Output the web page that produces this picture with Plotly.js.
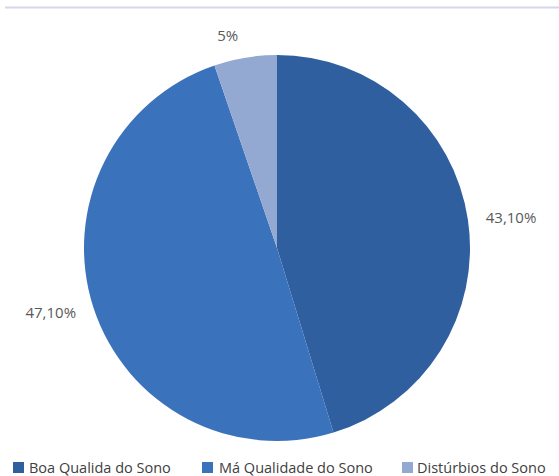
<!DOCTYPE html>
<html>
<head>
<meta charset="utf-8">
<script src="https://cdn.plot.ly/plotly-3.0.1.min.js"></script>
<style>html,body{margin:0;padding:0;background:#fff;}#chart{width:559px;height:476px;}</style>
</head>
<body>
<div id="chart"></div>
<script>
const categories = ['Boa Qualida do Sono', 'Má Qualidade do Sono', 'Distúrbios do Sono'];
const values = [43.1, 47.1, 5];
const valueLabels = ['43,10%', '47,10%', '5%'];
const sliceColors = ['#2F5F9F', '#3B72BC', '#94A9D2'];

// plot area geometry (px)
const W = 559, H = 476;
const M = { l: 0, r: 5, t: 42, b: 22 };
const PW = W - M.l - M.r, PH = H - M.t - M.b;
const cx = 277, cy = 248, R = 193, labelR = 207;

function domX(r) { return [(cx - r - M.l) / PW, (cx + r - M.l) / PW]; }
function domY(r) { return [(H - M.b - (cy + r)) / PH, (H - M.b - (cy - r)) / PH]; }
function px2x(p) { return (p - M.l) / PW; }
function px2y(p) { return (H - M.b - p) / PH; }

const pieTrace = {
  type: 'pie',
  labels: categories,
  values: values,
  textinfo: 'none',
  sort: false,
  direction: 'clockwise',
  rotation: 0,
  hoverinfo: 'label+percent',
  marker: { colors: sliceColors, line: { color: '#ffffff', width: 0 } },
  showlegend: false,
  domain: { x: domX(R), y: domY(R) }
};

const labelTrace = {
  type: 'pie',
  labels: categories,
  values: values,
  text: valueLabels,
  textinfo: 'text',
  textposition: 'outside',
  sort: false,
  direction: 'clockwise',
  rotation: 0,
  hoverinfo: 'skip',
  marker: { colors: ['rgba(0,0,0,0)', 'rgba(0,0,0,0)', 'rgba(0,0,0,0)'], line: { width: 0 } },
  outsidetextfont: { family: 'Open Sans, sans-serif', size: 15, color: '#595959' },
  showlegend: false,
  automargin: false,
  domain: { x: domX(labelR), y: domY(labelR) }
};

// custom legend built from the category / colour arrays
const legendSquarePx = [13, 202, 402];
const legendTextPx = [27, 217, 415];
const legendMidPx = 467.5;

const annotations = categories.map((c, i) => ({
  xref: 'paper', yref: 'paper',
  x: px2x(legendTextPx[i]), y: px2y(legendMidPx),
  xanchor: 'left', yanchor: 'middle',
  showarrow: false,
  text: c,
  font: { family: 'Open Sans, sans-serif', size: 14.5, color: '#404040' }
}));

const legendSquares = categories.map((c, i) => ({
  type: 'rect', xref: 'paper', yref: 'paper',
  x0: px2x(legendSquarePx[i]), x1: px2x(legendSquarePx[i] + 11),
  y0: px2y(473), y1: px2y(462),
  fillcolor: sliceColors[i], line: { width: 0 }
}));

const layout = {
  width: W,
  height: H,
  margin: M,
  paper_bgcolor: '#ffffff',
  showlegend: false,
  annotations: annotations,
  shapes: [{
    type: 'line', xref: 'paper', yref: 'paper',
    x0: px2x(5), x1: 1.01, y0: px2y(7.5), y1: px2y(7.5),
    line: { color: '#D6D6EE', width: 2 }
  }].concat(legendSquares)
};

Plotly.newPlot('chart', [pieTrace, labelTrace], layout, { displayModeBar: false, staticPlot: true });
</script>
</body>
</html>
